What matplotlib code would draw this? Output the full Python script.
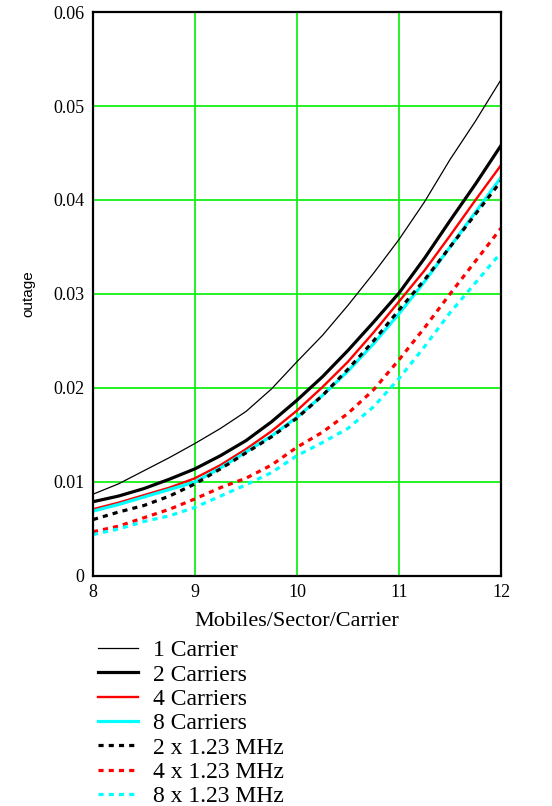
import matplotlib
matplotlib.use("Agg")
import matplotlib.pyplot as plt

# mobiles per sector per carrier
x = [8.0, 8.25, 8.5, 8.75, 9.0, 9.25, 9.5, 9.75, 10.0,
     10.25, 10.5, 10.75, 11.0, 11.25, 11.5, 11.75, 12.0]

one_carrier = [0.0087, 0.0098, 0.0112, 0.0126, 0.0141, 0.0157, 0.0175, 0.0199, 0.0228,
               0.0256, 0.0288, 0.0322, 0.0358, 0.0398, 0.0443, 0.0484, 0.0528]
two_carriers = [0.0079, 0.0085, 0.0093, 0.0103, 0.0114, 0.0128, 0.0144, 0.0164, 0.0187,
                0.0212, 0.0240, 0.0270, 0.0301, 0.0338, 0.0378, 0.0417, 0.0458]
four_carriers = [0.0071, 0.0078, 0.0086, 0.0094, 0.0104, 0.0118, 0.0135, 0.0154, 0.0176,
                 0.0201, 0.0228, 0.0259, 0.0292, 0.0325, 0.0362, 0.0400, 0.0437]
eight_carriers = [0.0069, 0.0076, 0.0084, 0.0092, 0.0100, 0.0115, 0.0132, 0.0149, 0.0169,
                  0.0192, 0.0218, 0.0247, 0.0279, 0.0313, 0.0350, 0.0387, 0.0424]
two_x = [0.0060, 0.0068, 0.0075, 0.0085, 0.0098, 0.0114, 0.0131, 0.0148, 0.0168,
         0.0192, 0.0220, 0.0250, 0.0283, 0.0315, 0.0350, 0.0385, 0.0420]
four_x = [0.0047, 0.0053, 0.0062, 0.0071, 0.0082, 0.0094, 0.0104, 0.0118, 0.0137,
          0.0153, 0.0173, 0.0198, 0.0230, 0.0264, 0.0300, 0.0335, 0.0370]
eight_x = [0.0044, 0.0050, 0.0058, 0.0064, 0.0073, 0.0085, 0.0097, 0.0110, 0.0128,
           0.0142, 0.0157, 0.0180, 0.0210, 0.0244, 0.0280, 0.0312, 0.0344]

labels = ['1 Carrier', '2 Carriers', '4 Carriers', '8 Carriers',
          '2 x 1.23 MHz', '4 x 1.23 MHz', '8 x 1.23 MHz']
xticks = [8, 9, 10, 11, 12]
yticks = [0, 0.01, 0.02, 0.03, 0.04, 0.05, 0.06]
ytick_labels = ['0', '0.01', '0.02', '0.03', '0.04', '0.05', '0.06']

plt.rcParams['font.family'] = ['Liberation Serif', 'DejaVu Serif']

fig = plt.figure(figsize=(5.52, 8.06), dpi=100)
ax = fig.add_axes([0.1685, 0.2854, 0.7391, 0.6997])

dots = (1.6, 1.6)
ax.plot(x, one_carrier, color='black', lw=0.9, label=labels[0])
ax.plot(x, two_carriers, color='black', lw=2.3, label=labels[1])
ax.plot(x, four_carriers, color='red', lw=1.7, label=labels[2])
ax.plot(x, eight_carriers, color='cyan', lw=2.3, label=labels[3])
ax.plot(x, two_x, color='black', lw=2.3, dashes=dots, label=labels[4])
ax.plot(x, four_x, color='red', lw=2.3, dashes=dots, label=labels[5])
ax.plot(x, eight_x, color='cyan', lw=2.3, dashes=dots, label=labels[6])

ax.set_xlim(8, 12)
ax.set_ylim(0, 0.06)
ax.set_xticks(xticks)
ax.set_yticks(yticks)
ax.set_yticklabels(ytick_labels)
ax.tick_params(length=0, labelsize=13, pad=6)
ax.grid(True, color='#00f000', lw=1.2)
ax.set_axisbelow(True)
for s in ax.spines.values():
    s.set_linewidth(1.6)
    s.set_zorder(5)

ax.set_xlabel('Mobiles/Sector/Carrier', fontsize=16, labelpad=8)
ax.set_ylabel('outage', fontsize=11, family=['Liberation Sans'], labelpad=13)

fig.legend(loc='upper left', bbox_to_anchor=(0.156, 0.221), frameon=False,
           fontsize=17, handlelength=1.7, handletextpad=0.64,
           labelspacing=0.12, borderpad=0)

fig.savefig('out.png', dpi=100)
